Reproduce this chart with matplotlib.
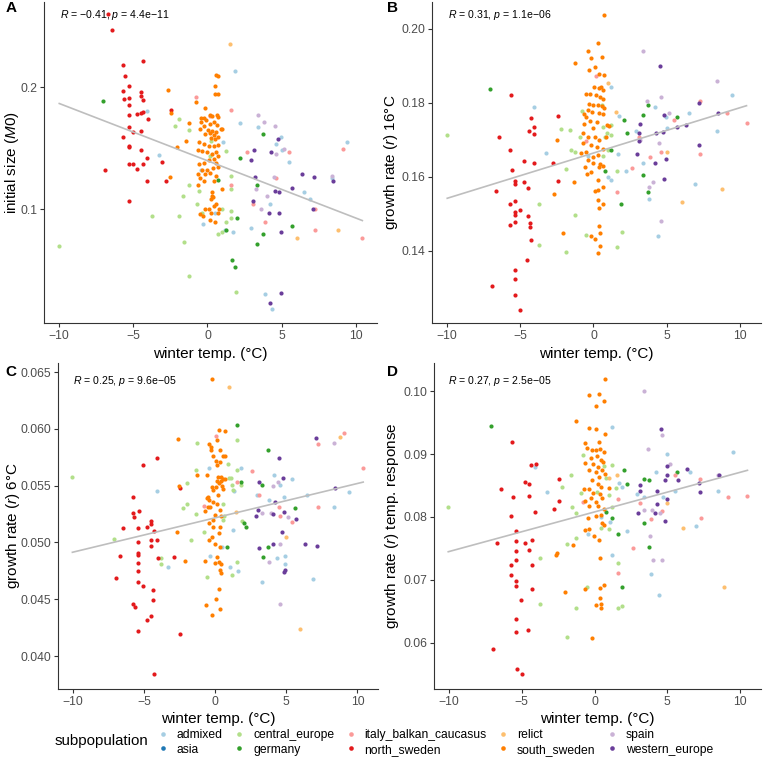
import numpy as np
import matplotlib
matplotlib.use("Agg")
import matplotlib.pyplot as plt
from matplotlib.lines import Line2D

plt.rcParams['font.family'] = ['Liberation Sans', 'DejaVu Sans']
plt.rcParams['mathtext.fontset'] = 'custom'
plt.rcParams['mathtext.rm'] = 'Liberation Sans'
plt.rcParams['mathtext.it'] = 'Liberation Sans:italic'

# subpopulations and their colours (RColorBrewer "Paired")
groups = ['admixed', 'asia', 'central_europe', 'germany', 'italy_balkan_caucasus',
          'north_sweden', 'relict', 'south_sweden', 'spain', 'western_europe']
colors = ['#A6CEE3', '#1F78B4', '#B2DF8A', '#33A02C', '#FB9A99',
          '#E31A1C', '#FDBF6F', '#FF7F00', '#CAB2D6', '#6A3D9A']

# ---- panel A: initial size (M0) vs winter temp ----
A_admixed = [(-4.08,0.175),(-3.27,0.136),(-0.41,0.125),(1.04,0.146),(1.87,0.219),(2.21,0.163),(3.4,0.159),(4.64,0.145),(4.98,0.151),(5.5,0.131),(6.49,0.11),(6.94,0.106),(8.42,0.119),(9.41,0.146),(4.19,0.103),(2.95,0.09),(1.69,0.088),(1.17,0.089),(0.54,0.098),(-0.32,0.092),(3.87,0.0616),(4.37,0.0566),(5.02,0.14)]
A_central_europe = [(-10.0,0.081),(-1.89,0.167),(-2.21,0.160),(-1.26,0.157),(-3.74,0.096),(-1.67,0.108),(-1.89,0.096),(-1.26,0.115),(-0.72,0.103),(-0.54,0.111),(-0.36,0.098),(-1.58,0.083),(-1.26,0.0686),(0.14,0.135),(0.23,0.147),(0.74,0.087),(0.97,0.088),(1.01,0.1),(1.22,0.093),(1.22,0.139),(1.58,0.121),(1.58,0.112),(1.62,0.099),(1.62,0.095),(1.91,0.0625)]
A_germany = [(-7.07,0.185),(3.76,0.153),(2.18,0.134),(3.33,0.115),(0.74,0.118),(2.0,0.095),(1.26,0.089),(3.74,0.087),(3.33,0.082),(5.7,0.091),(1.64,0.075),(1.87,0.072)]
A_italy = [(-0.74,0.189),(0.2,0.17),(1.6,0.176),(2.66,0.138),(1.62,0.115),(3.09,0.103),(3.85,0.093),(4.62,0.119),(5.5,0.138),(7.25,0.10),(7.27,0.089),(9.12,0.141),(10.45,0.085)]
A_north_sweden = [(-6.69,0.303),(-6.42,0.277),(-5.72,0.226),(-5.59,0.213),(-4.32,0.232),(-5.32,0.201),(-5.72,0.195),(-5.65,0.187),(-5.32,0.188),(-4.46,0.194),(-4.46,0.190),(-4.32,0.186),(-5.32,0.181),(-5.32,0.171),(-4.77,0.172),(-4.46,0.1725),(-4.32,0.174),(-4.01,0.167),(-5.32,0.159),(-4.46,0.156),(-5.0,0.1546),(-5.72,0.1505),(-5.32,0.143),(-5.32,0.142),(-4.5,0.1395),(-4.05,0.134),(-5.32,0.129),(-5.0,0.129),(-4.32,0.129),(-4.77,0.1258),(-6.94,0.1248),(-4.1,0.117),(-5.32,0.105),(-2.79,0.1175),(-2.43,0.176),(-3.04,0.131)]
A_relict = [(1.49,0.256),(6.01,0.085),(8.81,0.089)]
A_south_sweden = [(-0.45,0.168),(-0.23,0.168),(0.18,0.171),(0.32,0.170),(0.63,0.171),(0.72,0.169),(-0.41,0.164),(-0.09,0.166),(0.14,0.162),(0.41,0.164),(0.63,0.161),(0.9,0.158),(-0.5,0.158),(-0.23,0.16),(0.05,0.157),(0.32,0.156),(0.59,0.155),(-0.14,0.153),(0.14,0.154),(0.41,0.152),(0.68,0.151),(0.23,0.150),(0.5,0.149),(-0.54,0.146),(-0.23,0.145),(0.09,0.143),(0.41,0.143),(0.68,0.144),(-0.63,0.140),(-0.36,0.139),(-0.05,0.138),(0.32,0.137),(0.59,0.138),(0.68,0.135),(0.41,0.133),(0.09,0.132),(-0.23,0.130),(-0.59,0.129),(0.59,0.13),(0.68,0.127),(0.36,0.126),(0.0,0.125),(-0.36,0.125),(-0.63,0.122),(-0.14,0.122),(0.18,0.123),(0.59,0.121),(-0.5,0.119),(-0.23,0.117),(0.41,0.117),(-0.63,0.115),(0.32,0.11),(0.32,0.108),(0.23,0.106),(0.36,0.107),(0.41,0.102),(0.59,0.103),(0.09,0.100),(-0.18,0.100),(0.27,0.098),(-0.5,0.097),(0.18,0.094),(-0.27,0.096),(0.68,0.098),(0.54,0.093),(0.77,0.100),(0.99,0.112),(0.95,0.158),(-2.68,0.197),(-2.48,0.173),(-2.55,0.120),(-2.07,0.142),(-1.46,0.147),(-1.24,0.163),(-0.77,0.184),(-0.18,0.178),(0.59,0.214),(0.72,0.213),(0.52,0.201),(0.72,0.192),(0.5,0.192)]
A_spain = [(3.38,0.171),(3.83,0.164),(4.59,0.160),(5.18,0.141),(4.64,0.137),(4.46,0.12),(3.29,0.112),(3.6,0.1),(4.05,0.108),(8.4,0.121)]
A_western = [(3.11,0.14),(2.93,0.132),(3.2,0.12),(4.28,0.138),(4.73,0.149),(4.55,0.111),(4.82,0.11),(4.14,0.098),(4.82,0.098),(5.72,0.113),(6.35,0.122),(7.18,0.12),(8.45,0.117),(7.14,0.10),(3.09,0.105),(4.95,0.088),(4.23,0.0586),(4.95,0.062)]

# ---- panel B: growth rate 16C ----
B_admixed = [(-4.05,0.1789),(-3.27,0.1666),(-0.35,0.1657),(1.22,0.1844),(1.75,0.1765),(1.68,0.1662),(0.99,0.16),(1.22,0.1592),(2.23,0.1617),(2.92,0.1725),(3.41,0.1639),(3.82,0.1541),(4.21,0.1789),(4.97,0.1761),(4.99,0.1732),(6.51,0.1773),(6.93,0.158),(8.45,0.1723),(9.44,0.1822),(4.4,0.1441)]
B_central_europe = [(-9.99,0.1713),(-3.75,0.1527),(-3.75,0.1416),(-2.23,0.1729),(-1.91,0.1396),(-1.86,0.1621),(-1.63,0.1727),(-1.54,0.1673),(-1.27,0.1668),(-1.27,0.1497),(-0.9,0.1707),(-0.76,0.1778),(-0.53,0.1443),(0.58,0.1794),(0.67,0.1736),(0.76,0.1707),(0.9,0.1718),(1.22,0.1741),(1.22,0.1714),(0.99,0.1674),(1.59,0.1615),(1.96,0.1451),(1.63,0.141),(0.67,0.1657)]
B_germany = [(-7.07,0.1838),(2.05,0.1755),(2.26,0.1718),(1.22,0.1674),(0.76,0.1616),(1.91,0.1527),(3.36,0.1768),(3.38,0.1604),(3.75,0.1794),(3.75,0.1559),(5.68,0.1763)]
B_italy = [(-0.51,0.1697),(0.16,0.1873),(1.63,0.1559),(3.13,0.1707),(2.65,0.1624),(3.89,0.1653),(4.6,0.1668),(5.5,0.1755),(7.27,0.1805),(7.27,0.1662),(9.14,0.1772),(10.45,0.1746)]
B_north_sweden = [(-6.93,0.1306),(-6.42,0.1707),(-6.65,0.1561),(-5.64,0.1821),(-5.68,0.1673),(-5.57,0.1619),(-5.34,0.159),(-5.34,0.158),(-5.68,0.1526),(-5.34,0.1536),(-5.34,0.1505),(-5.34,0.1496),(-5.34,0.1478),(-5.68,0.147),(-5.02,0.151),(-4.76,0.1587),(-4.76,0.1642),(-4.44,0.1569),(-4.3,0.1758),(-4.42,0.1724),(-4.03,0.1736),(-4.05,0.1715),(-4.03,0.1638),(-4.44,0.1495),(-4.33,0.1475),(-4.33,0.1464),(-4.3,0.143),(-4.53,0.1375),(-5.34,0.1347),(-5.34,0.1324),(-5.34,0.128),(-4.99,0.1241),(-2.76,0.1638),(-2.42,0.1764),(-2.42,0.1588)]
B_relict = [(0.99,0.1854),(1.52,0.1775),(4.99,0.1668),(6.03,0.1532),(8.81,0.1567)]
B_south_sweden = [(-1.24,0.1907),(-1.31,0.1585),(-2.05,0.1448),(-2.69,0.1553),(-2.46,0.170),(-0.62,0.177),(-0.37,0.1941),(-0.16,0.1921),(0.32,0.1961),(0.6,0.1923),(0.71,0.2038),(-0.3,0.1889),(0.07,0.1898),(0.35,0.1877),(0.69,0.1875),(0.02,0.1844),(0.35,0.184),(0.53,0.1844),(0.62,0.1835),(-0.48,0.1823),(-0.21,0.1823),(0.16,0.1822),(0.44,0.1815),(0.67,0.181),(-0.3,0.1797),(-0.02,0.1794),(0.3,0.1795),(0.58,0.1792),(0.71,0.1786),(-0.39,0.1781),(-0.07,0.1776),(0.35,0.1774),(0.62,0.177),(-0.53,0.1761),(-0.21,0.1752),(0.21,0.1749),(0.9,0.174),(1.08,0.1738),(-0.62,0.1743),(-0.02,0.1731),(-0.71,0.1718),(-0.35,0.1709),(0.07,0.1709),(0.35,0.170),(0.85,0.1709),(-0.71,0.1691),(-0.16,0.1686),(0.21,0.168),(0.62,0.1675),(-0.53,0.1668),(-0.85,0.1664),(0.3,0.1659),(-0.02,0.1655),(-0.39,0.1646),(-0.02,0.1637),(0.44,0.1635),(-0.58,0.1628),(0.35,0.1628),(0.62,0.163),(-0.18,0.1612),(-0.41,0.1608),(0.3,0.1592),(0.12,0.1563),(0.3,0.1565),(0.62,0.1574),(0.3,0.1538),(0.62,0.1527),(0.35,0.1515),(0.35,0.1468),(0.44,0.1448),(-0.16,0.1439),(0.07,0.1432),(0.44,0.1412),(0.32,0.1394)]
B_spain = [(3.38,0.1941),(3.64,0.1806),(4.63,0.1815),(5.13,0.1772),(4.44,0.1693),(4.03,0.1585),(3.82,0.1572),(4.58,0.1482),(8.45,0.1859),(3.2,0.170)]
B_western = [(4.53,0.1901),(3.13,0.1718),(3.2,0.1742),(3.11,0.1696),(2.97,0.1662),(4.26,0.1718),(4.17,0.1638),(4.83,0.1768),(4.74,0.1722),(4.97,0.1648),(4.83,0.1594),(5.73,0.1734),(6.33,0.174),(7.2,0.1799),(7.2,0.1687),(8.47,0.1774)]

# ---- panel C: growth rate 6C ----
C_admixed = [(-4.11,0.0545),(-3.31,0.0478),(-0.45,0.0566),(-0.35,0.0488),(0.49,0.0496),(1.06,0.0478),(1.24,0.0511),(1.34,0.0545),(1.6,0.0475),(1.81,0.0566),(2.91,0.0542),(3.31,0.0465),(3.78,0.0537),(4.15,0.0559),(4.53,0.0551),(4.81,0.054),(5.42,0.0556),(4.32,0.0486),(4.93,0.0481),(4.93,0.0488),(6.46,0.0542),(6.88,0.0468),(8.38,0.0531),(9.37,0.0544)]
C_central_europe = [(-10.02,0.0558),(-7.11,0.0503),(-3.78,0.0486),(-3.78,0.0481),(-2.28,0.053),(-1.95,0.0552),(-1.95,0.0534),(-1.67,0.0502),(-1.34,0.0564),(-1.34,0.0525),(-1.24,0.0588),(-0.77,0.0509),(-0.59,0.047),(0.54,0.0534),(0.63,0.0523),(0.92,0.0569),(1.01,0.0557),(1.15,0.0557),(1.2,0.0551),(0.54,0.052),(1.2,0.0471),(1.57,0.0483),(1.57,0.0564),(1.57,0.059),(1.85,0.0551),(1.9,0.0519),(1.29,0.0546)]
C_germany = [(1.57,0.0603),(1.81,0.0553),(2.0,0.0517),(2.14,0.0514),(0.82,0.0496),(3.31,0.0551),(3.73,0.0581),(3.69,0.0496),(3.36,0.0487),(5.61,0.053)]
C_italy = [(-0.77,0.0532),(0.07,0.0594),(1.57,0.0553),(2.61,0.0563),(3.08,0.0542),(4.48,0.0531),(4.55,0.0523),(5.42,0.0518),(7.21,0.0587),(7.21,0.0531),(9.08,0.0596),(10.4,0.0566)]
C_north_sweden = [(-4.11,0.0574),(-5.05,0.0568),(-5.75,0.054),(-5.75,0.0526),(-5.7,0.0522),(-5.35,0.0528),(-6.46,0.0513),(-5.38,0.0513),(-4.81,0.0514),(-4.48,0.0519),(-4.48,0.0516),(-4.3,0.051),(-4.11,0.0502),(-4.48,0.0502),(-4.53,0.0497),(-5.38,0.050),(-5.38,0.0491),(-5.38,0.0489),(-5.38,0.0482),(-5.38,0.0475),(-5.38,0.0465),(-5.07,0.0462),(-4.04,0.0486),(-6.69,0.0488),(-6.97,0.0469),(-4.37,0.0458),(-4.37,0.0449),(-5.75,0.0446),(-5.63,0.0443),(-4.81,0.0432),(-4.48,0.0435),(-5.38,0.0422),(-2.46,0.0548),(-2.89,0.0487),(-2.46,0.0419),(-4.3,0.0384)]
C_relict = [(0.96,0.0637),(1.48,0.0527),(4.98,0.0505),(5.99,0.0424),(8.76,0.0593)]
C_south_sweden = [(-2.63,0.0591),(-2.54,0.055),(-2.7,0.0509),(-2.11,0.0484),(-1.29,0.0559),(-0.73,0.0484),(-0.66,0.0445),(-0.23,0.0436),(-0.21,0.0644),(-0.54,0.0559),(-0.59,0.0539),(-0.4,0.0537),(-0.52,0.0531),(-0.68,0.0528),(-0.45,0.0502),(-0.4,0.0587),(-0.31,0.0584),(0.26,0.0599),(0.68,0.0598),(0.12,0.059),(-0.31,0.0581),(-0.12,0.0576),(0.35,0.0581),(0.59,0.0576),(0.73,0.0576),(0.07,0.0572),(0.35,0.0571),(0.16,0.0568),(0.21,0.0558),(0.4,0.0558),(0.54,0.0556),(0.12,0.0554),(0.31,0.0552),(0.45,0.0554),(0.68,0.0556),(0.49,0.055),(0.07,0.0549),(-0.21,0.0549),(-0.12,0.0546),(0.54,0.0547),(0.21,0.0542),(-0.49,0.054),(-0.12,0.0536),(-0.35,0.0531),(0.16,0.0534),(0.35,0.0529),(0.02,0.0524),(-0.16,0.052),(0.4,0.0523),(-0.12,0.0514),(0.35,0.0514),(-0.45,0.0517),(0.26,0.0508),(-0.21,0.0505),(0.02,0.0499),(0.35,0.0496),(0.16,0.0487),(-0.02,0.0482),(0.31,0.0483),(0.35,0.0476),(0.4,0.0473),(0.4,0.0481),(0.26,0.0459),(0.07,0.045),(0.35,0.0441)]
C_spain = [(3.31,0.0526),(4.06,0.055),(4.39,0.0553),(4.58,0.0499),(3.78,0.0483),(3.92,0.0526),(5.09,0.0522),(4.53,0.0446),(8.38,0.0588)]
C_western = [(7.07,0.0592),(4.48,0.0574),(3.08,0.0553),(3.03,0.0529),(2.89,0.0523),(4.06,0.0525),(4.2,0.0536),(4.77,0.0557),(4.81,0.0527),(5.66,0.0521),(4.67,0.0509),(4.06,0.0499),(3.08,0.0495),(4.88,0.0476),(4.84,0.0474),(6.29,0.0499),(7.16,0.0497),(8.43,0.0548)]

# ---- panel D: growth rate temp. response ----
D_admixed = [(-4.07,0.088),(-3.29,0.084),(-0.44,0.0773),(1.18,0.0943),(1.2,0.0739),(1.09,0.0792),(1.69,0.0854),(1.88,0.0848),(2.25,0.0778),(2.94,0.0837),(3.43,0.0832),(3.87,0.0709),(4.24,0.0871),(4.4,0.0675),(4.7,0.0831),(5.0,0.090),(5.53,0.0841),(6.55,0.0871),(6.97,0.0786),(8.5,0.0842),(9.49,0.0903),(0.44,0.08)]
D_central_europe = [(-10.05,0.0816),(-3.77,0.0734),(-3.77,0.0661),(-2.22,0.0847),(-1.92,0.0757),(-1.88,0.0608),(-1.64,0.0866),(-1.55,0.0815),(-1.27,0.0767),(-1.27,0.0806),(-1.27,0.0655),(-0.9,0.0838),(-0.76,0.0898),(-0.53,0.0688),(0.16,0.0839),(0.44,0.0783),(0.62,0.0881),(0.76,0.0862),(0.99,0.0835),(0.99,0.078),(1.23,0.0883),(1.23,0.0816),(1.46,0.0846),(1.64,0.0726),(1.64,0.0655),(1.92,0.0658)]
D_germany = [(-7.11,0.0944),(0.76,0.0807),(1.18,0.0798),(1.64,0.0772),(1.88,0.0688),(2.01,0.0875),(2.22,0.0852),(3.38,0.0861),(3.4,0.079),(3.77,0.0858),(3.73,0.0752),(5.69,0.0871)]
D_italy = [(-0.76,0.0824),(1.64,0.0829),(1.64,0.071),(2.66,0.075),(3.13,0.0822),(3.91,0.0796),(4.61,0.081),(5.53,0.0867),(7.31,0.0799),(7.27,0.086),(9.19,0.0832),(10.51,0.0834)]
D_north_sweden = [(-6.97,0.059),(-6.69,0.0758),(-6.46,0.0845),(-5.72,0.0802),(-5.67,0.0919),(-5.6,0.0831),(-5.37,0.0777),(-5.37,0.0761),(-5.37,0.0746),(-5.37,0.0732),(-5.72,0.0723),(-5.72,0.0707),(-5.37,0.0698),(-5.37,0.069),(-5.05,0.0667),(-5.37,0.0637),(-5.37,0.0616),(-4.79,0.0759),(-4.47,0.0834),(-4.47,0.0853),(-4.79,0.0855),(-4.47,0.0747),(-4.35,0.0882),(-4.05,0.0884),(-4.33,0.0763),(-4.33,0.0724),(-4.33,0.0685),(-4.56,0.062),(-4.12,0.0807),(-2.78,0.0813),(-2.43,0.0826),(-2.43,0.086),(-5.3,0.0558),(-4.95,0.055)]
D_relict = [(0.99,0.0862),(1.53,0.0867),(5.0,0.0822),(6.06,0.0783),(8.87,0.0688)]
D_south_sweden = [(-2.66,0.074),(-2.57,0.0743),(-2.06,0.0681),(-1.46,0.0755),(-1.27,0.0953),(-0.63,0.0685),(-0.39,0.0994),(0.07,0.0976),(0.32,0.0995),(0.65,0.0984),(0.74,0.102),(-0.35,0.0942),(0.12,0.094),(0.72,0.0932),(-0.63,0.0917),(-0.53,0.0909),(0.3,0.0919),(-0.16,0.0906),(0.12,0.0906),(0.39,0.0908),(0.63,0.0903),(-0.25,0.0893),(0.16,0.0897),(0.44,0.0891),(-0.63,0.0886),(-0.07,0.0885),(0.58,0.0888),(0.25,0.088),(-0.39,0.0874),(0.07,0.0871),(0.53,0.0875),(0.72,0.0869),(0.3,0.0864),(-0.16,0.0858),(-0.72,0.0845),(-0.39,0.0844),(0.25,0.0853),(0.44,0.0848),(0.99,0.0846),(-0.07,0.0838),(0.35,0.0836),(-0.21,0.083),(-0.63,0.0826),(0.07,0.0824),(0.53,0.083),(-0.35,0.0818),(0.21,0.0818),(0.62,0.0812),(0.44,0.0803),(0.07,0.0801),(-0.44,0.0799),(0.53,0.0791),(0.67,0.0787),(-0.63,0.0779),(-0.35,0.078),(-0.02,0.077),(0.3,0.0764),(0.35,0.0734),(0.62,0.0692),(0.35,0.0686),(0.07,0.066),(0.35,0.0671),(0.44,0.0662),(0.44,0.0655),(-0.16,0.0607)]
D_spain = [(3.4,0.1001),(3.66,0.0908),(4.65,0.0931),(5.21,0.0884),(3.96,0.0811),(3.4,0.0811),(3.82,0.077),(4.05,0.0731),(4.61,0.0732),(8.5,0.0867),(4.47,0.0806)]
D_western = [(4.56,0.094),(3.13,0.0851),(3.13,0.0841),(2.99,0.0806),(4.98,0.0881),(4.98,0.0866),(4.84,0.0858),(4.28,0.0841),(4.28,0.082),(4.14,0.0806),(4.84,0.0793),(4.98,0.0829),(5.72,0.0858),(6.37,0.0877),(7.2,0.0854),(7.25,0.084),(8.52,0.0866)]

panel_A = {'admixed': A_admixed, 'central_europe': A_central_europe, 'germany': A_germany,
           'italy_balkan_caucasus': A_italy, 'north_sweden': A_north_sweden, 'relict': A_relict,
           'south_sweden': A_south_sweden, 'spain': A_spain, 'western_europe': A_western}
panel_B = {'admixed': B_admixed, 'central_europe': B_central_europe, 'germany': B_germany,
           'italy_balkan_caucasus': B_italy, 'north_sweden': B_north_sweden, 'relict': B_relict,
           'south_sweden': B_south_sweden, 'spain': B_spain, 'western_europe': B_western}
panel_C = {'admixed': C_admixed, 'central_europe': C_central_europe, 'germany': C_germany,
           'italy_balkan_caucasus': C_italy, 'north_sweden': C_north_sweden, 'relict': C_relict,
           'south_sweden': C_south_sweden, 'spain': C_spain, 'western_europe': C_western}
panel_D = {'admixed': D_admixed, 'central_europe': D_central_europe, 'germany': D_germany,
           'italy_balkan_caucasus': D_italy, 'north_sweden': D_north_sweden, 'relict': D_relict,
           'south_sweden': D_south_sweden, 'spain': D_spain, 'western_europe': D_western}

stats = ['$R$ = \u22120.41, $p$ = 4.4e\u221211', '$R$ = 0.31, $p$ = 1.1e\u221206',
         '$R$ = 0.25, $p$ = 9.6e\u221205', '$R$ = 0.27, $p$ = 2.5e\u221205']
ylabels = ['initial size ($\\mathit{M0}$)', 'growth rate ($\\mathit{r}$) 16\u00b0C',
           'growth rate ($\\mathit{r}$) 6\u00b0C', 'growth rate ($\\mathit{r}$) temp. response']

W, H = 763, 759
fig = plt.figure(figsize=(W / 100, H / 100), dpi=100)


def px_axes(left, top, right, bottom):
    return fig.add_axes([left / W, 1 - bottom / H, (right - left) / W, (bottom - top) / H])


def draw(ax, data, ylabel, ylim, yticks, fmt, ylab_x, xlab_y, logy=False):
    allx, ally = [], []
    for g, c in zip(groups, colors):
        pts = data.get(g, [])
        if not pts:
            continue
        x, y = zip(*pts)
        allx += x
        ally += y
        ax.scatter(x, y, s=9, color=c, linewidths=0, zorder=2)
    allx = np.array(allx)
    ally = np.array(ally)
    xs = np.array([allx.min(), allx.max()])
    if logy:
        k, b = np.polyfit(allx, np.log10(ally), 1)
        ys = 10 ** (k * xs + b)
        ax.set_yscale('log')
    else:
        k, b = np.polyfit(allx, ally, 1)
        ys = k * xs + b
    ax.plot(xs, ys, color='#BEBEBE', lw=1.2, zorder=3)
    ax.set_xlim(-11.03, 11.44)
    ax.set_ylim(*ylim)
    ax.set_xticks([-10, -5, 0, 5, 10])
    ax.set_yticks(yticks)
    ax.set_yticklabels([fmt.format(t) for t in yticks])
    ax.minorticks_off()
    for s in ['top', 'right']:
        ax.spines[s].set_visible(False)
    for s in ['left', 'bottom']:
        ax.spines[s].set_color('#333333')
        ax.spines[s].set_linewidth(0.8)
    ax.tick_params(length=3, width=0.8, color='#333333', labelcolor='#4D4D4D',
                   labelsize=8.7, pad=2)
    ax.set_xlabel('winter temp. (\u00b0C)', fontsize=11)
    ax.set_ylabel(ylabel, fontsize=11, va='center')
    ax.yaxis.set_label_coords(ylab_x, 0.5)
    ax.xaxis.set_label_coords(0.5, xlab_y)


axA = px_axes(44, 2, 377, 323)
axB = px_axes(432, 2, 761, 323)
axC = px_axes(58, 363, 378, 689)
axD = px_axes(434, 363, 761, 689)

draw(axA, panel_A, ylabels[0], (0.0524, 0.324), [0.1, 0.2], '{:.1f}', -0.096, -0.075, logy=True)
draw(axB, panel_B, ylabels[1], (0.1205, 0.2073), [0.14, 0.16, 0.18, 0.20], '{:.2f}', -0.124, -0.075)
draw(axC, panel_C, ylabels[2], (0.0371, 0.0658), [0.040, 0.045, 0.050, 0.055, 0.060, 0.065], '{:.3f}', -0.142, -0.07)
draw(axD, panel_D, ylabels[3], (0.0526, 0.1045), [0.06, 0.07, 0.08, 0.09, 0.10], '{:.2f}', -0.128, -0.07)

# correlation labels and panel letters
for (x, y), s in zip([(60, 15), (448, 15), (73, 381), (448, 381)], stats):
    fig.text(x / W, 1 - y / H, s, fontsize=7.6, color='black', ha='left', va='center')
for (x, y), s in zip([(11, 8), (392, 8), (11, 372), (392, 372)], 'ABCD'):
    fig.text(x / W, 1 - y / H, s, fontsize=11, fontweight='bold', ha='center', va='center')

# legend
handles = [Line2D([], [], marker='o', linestyle='none', markersize=3.3, markeredgewidth=0,
                  color=c) for c in colors]
fig.legend(handles, groups, loc='center left', bbox_to_anchor=(157 / W, 1 - 742.5 / H),
           ncol=5, frameon=False, fontsize=8.7, handlelength=1.0, handletextpad=0.65,
           columnspacing=0.85, labelspacing=0.2, borderpad=0, borderaxespad=0)
fig.text(55 / W, 1 - 741 / H, 'subpopulation', fontsize=10.8, ha='left', va='center')

fig.savefig('out.png', dpi=100)
